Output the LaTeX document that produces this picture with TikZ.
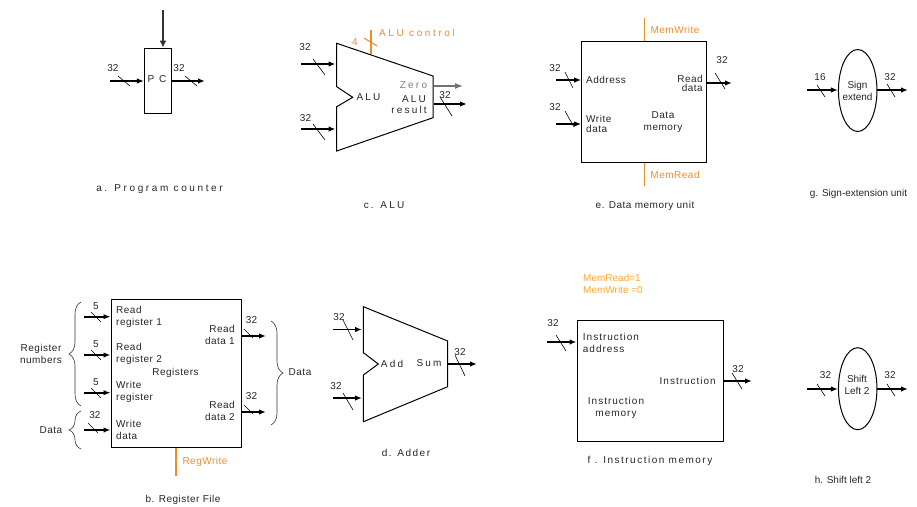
\documentclass[tikz,border=0pt]{standalone}
\usepackage{fontspec}
\setmainfont{Liberation Sans}
\newfontfamily\wideA[LetterSpace=22]{Liberation Sans}
\newfontfamily\wideB[LetterSpace=5]{Liberation Sans}
\newfontfamily\wideC[LetterSpace=10]{Liberation Sans}
\newfontfamily\wideD[LetterSpace=15]{Liberation Sans}
\newfontfamily\wideE[LetterSpace=26]{Liberation Sans}
\usetikzlibrary{arrows.meta,decorations.pathreplacing,shapes.geometric}
\definecolor{ctrl}{HTML}{F08C28}
\definecolor{ctrlb}{HTML}{FFA733}
\tikzset{
  bus/.style={line width=1.7pt, black, -{Latex[length=7pt,width=5.5pt]}},
  busgray/.style={line width=1.2pt, black!55, -{Latex[length=8pt,width=6pt]}},
  wire/.style={line width=1.1pt, black!80, -{Latex[length=7pt,width=7pt]}},
  slashline/.style={line width=0.6pt, black},
  unit/.style={draw, line width=1pt, black, inner sep=0pt},
  ctrlline/.style={line width=1.1pt, ctrl},
  lab/.style={inner sep=0pt, align=center, font=\fontsize{10}{12}\selectfont, text=black!85},
  labl/.style={lab, align=left, anchor=west},
  labr/.style={lab, align=right, anchor=east},
  ctrllab/.style={lab, text=ctrl},
  brace/.style={line width=0.6pt, black!80, decorate, decoration={brace, amplitude=12pt}}
}
\begin{document}
\begin{tikzpicture}[x=1pt, y=-1pt]
  \useasboundingbox (0,0) rectangle (917,506);

  % Program counter
  \node[unit, minimum width=27.5pt, minimum height=65pt] (pc) at (158.2,80.5) {};
  \node[lab] (pctext) at (157,79.5) {\wideA P C};
  \coordinate (pctop) at (163,10);
  \coordinate (pcin) at (110,81);
  \coordinate (pcout) at (205,81);
  \draw[wire] (pctop) -- (pctop |- pc.north);
  \draw[bus] (pcin) -- (pcin -| pc.west);
  \draw[bus] (pcin -| pc.east) -- (pcout);
  \draw[slashline] (118,76) -- (130,86);
  \draw[slashline] (185,76) -- (197,86);
  \node[lab] (pcw1) at (113,68.5) {32};
  \node[lab] (pcw2) at (179,68.5) {32};
  \node[lab] (capa) at (159.5,189) {\wideE a. Program counter};

  % ALU body
  \draw[line width=1pt, black] (336.7,43.3) coordinate (alutop) -- (433,76) -- (433,117.7)
    -- (336.7,151) -- (336.7,106.7) -- (352.7,97.3) -- (336.7,86.7) -- cycle;
  \node[lab] (alutext) at (368.5,97.5) {\wideA ALU};
  \node[lab, text=black!50] (zero) at (413.5,85) {\wideA Zero};
  \node[lab] (alures) at (409,104.5) {\wideA \hspace*{10pt}ALU\\[-1.5pt]\wideA result};
  % ALU buses
  \coordinate (aluin1) at (301,64);
  \coordinate (aluin1e) at (335.5,64);
  \coordinate (aluin2) at (301,129);
  \coordinate (aluin2e) at (335.5,129);
  \coordinate (aluz) at (433.5,86);
  \coordinate (aluze) at (463,86);
  \coordinate (alur) at (433.5,104);
  \coordinate (alure) at (467,104);
  \draw[bus] (aluin1) -- (aluin1e);
  \draw[bus] (aluin2) -- (aluin2e);
  \draw[busgray] (aluz) -- (aluze);
  \draw[bus] (alur) -- (alure);
  \draw[slashline] (313,59) -- (325,75);
  \draw[slashline] (313,124) -- (325,140);
  \draw[slashline] (440,97) -- (452,116);
  \node[lab] (aluw1) at (305,47.5) {32};
  \node[lab] (aluw2) at (305.5,118) {32};
  \node[lab] (aluw3) at (445,95.5) {32};
  % ALU control
  \coordinate (alucs) at (371,30);
  \coordinate (aluce) at (371,54);
  \draw[ctrlline] (alucs) -- (aluce);
  \draw[ctrlline] (364,38) -- (377,46);
  \node[ctrllab] (aluc4) at (355,42) {4};
  \node[ctrllab, anchor=west] (aluctext) at (379,32.5) {\wideE ALU control};
  \node[lab] (capc) at (384,205.5) {\wideA c. ALU};

  % Data memory
  \node[unit, minimum width=125pt, minimum height=121pt] (dmem) at (644.2,102.2) {};
  \coordinate (mw) at (644.5,18);
  \coordinate (mr) at (644.5,186);
  \draw[ctrlline] (mw) -- (dmem.north -| mw);
  \draw[ctrlline] (dmem.south -| mr) -- (mr);
  \node[ctrllab] (mwtext) at (675,30) {\wideB MemWrite};
  \node[ctrllab] (mrtext) at (675,174.5) {\wideB MemRead};
  \coordinate (dmin1) at (556,80);
  \coordinate (dmin2) at (556,124);
  \coordinate (dmout) at (732,83);
  \draw[bus] (dmin1) -- (dmin1 -| dmem.west);
  \draw[bus] (dmin2) -- (dmin2 -| dmem.west);
  \draw[bus] (dmout -| dmem.east) -- (dmout);
  \draw[slashline] (565,72) -- (573,88);
  \draw[slashline] (565,111) -- (574,127);
  \draw[slashline] (715,73) -- (725,89);
  \node[lab] (dmw1) at (555,68.5) {32};
  \node[lab] (dmw2) at (555,107.5) {32};
  \node[lab] (dmw3) at (722,60.5) {32};
  \node[labl] (dmaddr) at (586,79.5) {\wideB Address};
  \node[labl] (dmwrite) at (586,124) {\wideB Write\\[-1.5pt]\wideB data};
  \node[labr] (dmread) at (703,83.5) {\wideB Read\\[-2.5pt]\wideB data};
  \node[lab] (dmtext) at (663,122.5) {\wideB Data\\\wideB memory};
  \node[lab] (cape) at (645,205.5) {\wideB e. Data memory unit};

  % Sign extend
  \node[draw, ellipse, line width=1pt, black, minimum width=38.5pt, minimum height=82pt, inner sep=0pt] (sext) at (857.7,90.5) {};
  \coordinate (sxin) at (807,90);
  \coordinate (sxout) at (908,90);
  \draw[bus] (sxin) -- (sxin -| sext.west);
  \draw[bus] (sxout -| sext.east) -- (sxout);
  \draw[slashline] (817,85) -- (825,97);
  \draw[slashline] (887,84) -- (895,97);
  \node[lab] (sxw1) at (820,77.5) {16};
  \node[lab] (sxw2) at (890,77.5) {32};
  \node[lab] (sxtext) at (857.5,91) {Sign\\extend};
  \node[lab] (capg) at (858.5,193.5) {g. Sign-extension unit};

  % Register file
  \node[unit, minimum width=130pt, minimum height=148.5pt] (regs) at (176,373.7) {};
  \coordinate (rin1) at (84,316.7);
  \coordinate (rin2) at (84,355);
  \coordinate (rin3) at (84,392.7);
  \coordinate (rin4) at (84,430);
  \coordinate (rout1) at (266,336);
  \coordinate (rout2) at (266,412);
  \coordinate (rw) at (176,476);
  \draw[bus] (rin1) -- (rin1 -| regs.west);
  \draw[bus] (rin2) -- (rin2 -| regs.west);
  \draw[bus] (rin3) -- (rin3 -| regs.west);
  \draw[bus] (rin4) -- (rin4 -| regs.west);
  \draw[bus] (rout1 -| regs.east) -- (rout1);
  \draw[bus] (rout2 -| regs.east) -- (rout2);
  \draw[ctrlline] (regs.south -| rw) -- (rw);
  \draw[slashline] (91,312) -- (101,322);
  \draw[slashline] (91,350) -- (101,360);
  \draw[slashline] (91,388) -- (101,398);
  \draw[slashline] (88,423) -- (98,433);
  \draw[slashline] (244,329) -- (253,338);
  \draw[slashline] (244,405) -- (253,414);
  \node[lab] (rw1) at (96,306.5) {5};
  \node[lab] (rw2) at (96,344) {5};
  \node[lab] (rw3) at (96,382.5) {5};
  \node[lab] (rw4) at (95,415.5) {32};
  \node[lab] (rw5) at (251.5,320.5) {32};
  \node[lab] (rw6) at (251.5,396.5) {32};
  \node[labl] (rr1) at (116,316.5) {\wideB Read\\\wideB register 1};
  \node[labl] (rr2) at (116,353.5) {\wideB Read\\\wideB register 2};
  \node[labl] (rr3) at (116,391.5) {\wideB Write\\\wideB register};
  \node[labl] (rr4) at (116,429.5) {\wideB Write\\\wideB data};
  \node[lab] (rtext) at (175.5,372.5) {\wideB Registers};
  \node[labr] (rd1) at (235,334.5) {\wideB Read\\\wideB data 1};
  \node[labr] (rd2) at (235,410.5) {\wideB Read\\\wideB data 2};
  \node[ctrllab] (rwtext) at (205,461.5) {\wideB RegWrite};
  % Braces
  \coordinate (b1a) at (81,406);
  \coordinate (b1b) at (81,302);
  \coordinate (b2a) at (81,449);
  \coordinate (b2b) at (81,411);
  \coordinate (b3a) at (271,321);
  \coordinate (b3b) at (271,425);
  \draw[brace] (b1a) -- (b1b);
  \draw[brace] (b2a) -- (b2b);
  \draw[brace] (b3a) -- (b3b);
  \node[lab] (regnum) at (41,354) {\wideB Register\\\wideB numbers};
  \node[lab] (dleft) at (51,430) {\wideB Data};
  \node[lab] (dright) at (300,372.5) {\wideB Data};
  \node[lab] (capb) at (183,499.5) {\wideB b. Register File};

  % Adder
  \draw[line width=1pt, black] (363.4,306.7) -- (447.7,341) -- (447.7,386.7)
    -- (363.4,421.7) -- (363.4,375) -- (378.3,364) -- (363.4,352.7) -- cycle;
  \coordinate (ain1) at (333,329.5);
  \coordinate (ain1e) at (362,329.5);
  \coordinate (ain2) at (333,398);
  \coordinate (ain2e) at (362,398);
  \coordinate (aout) at (448,364);
  \coordinate (aoute) at (477,364);
  \draw[bus] (ain1) -- (ain1e);
  \draw[bus] (ain2) -- (ain2e);
  \draw[bus] (aout) -- (aoute);
  \draw[slashline] (343,320) -- (353,340);
  \draw[slashline] (343,393) -- (353,410);
  \draw[slashline] (455,355) -- (465,376);
  \node[lab] (aw1) at (339,317.5) {32};
  \node[lab] (aw2) at (336,386.5) {32};
  \node[lab] (aw3) at (460,352.5) {32};
  \node[lab] (addtext) at (392,364) {\wideA Add};
  \node[lab] (sumtext) at (429,363.5) {\wideA Sum};
  \node[lab] (capd) at (406,453) {\wideD d. Adder};

  % Instruction memory
  \node[unit, minimum width=146pt, minimum height=120.5pt] (imem) at (650,381) {};
  \coordinate (iin) at (547,342);
  \coordinate (iout) at (752,381);
  \draw[bus] (iin) -- (iin -| imem.west);
  \draw[bus] (iout -| imem.east) -- (iout);
  \draw[slashline] (556,335) -- (566,351);
  \draw[slashline] (732,373) -- (742,389);
  \node[lab] (iw1) at (553,323.5) {32};
  \node[lab] (iw2) at (738,369) {32};
  \node[labl] (iaddr) at (582.7,343) {\wideC Instruction\\\wideC address};
  \node[labr] (iout2) at (716,381) {\wideC Instruction};
  \node[lab] (itext) at (616,407.5) {\wideC Instruction\\\wideC memory};
  \node[lab, text=ctrlb, align=left, anchor=west] (imctrl) at (583,284) {MemRead=1\\MemWrite =0};
  \node[lab] (capf) at (650,460.5) {\wideD f . Instruction memory};

  % Shift left 2
  \node[draw, ellipse, line width=1pt, black, minimum width=38.5pt, minimum height=82pt, inner sep=0pt] (shl) at (857.7,388.7) {};
  \coordinate (shin) at (807,389);
  \coordinate (shout) at (908,389);
  \draw[bus] (shin) -- (shin -| shl.west);
  \draw[bus] (shout -| shl.east) -- (shout);
  \draw[slashline] (817,384) -- (825,396);
  \draw[slashline] (887,384) -- (895,396);
  \node[lab] (shw1) at (825.5,375) {32};
  \node[lab] (shw2) at (890,375) {32};
  \node[lab] (shtext) at (857,385) {Shift\\Left 2};
  \node[lab] (caph) at (843,479.5) {h. Shift left 2};
\end{tikzpicture}
\end{document}
